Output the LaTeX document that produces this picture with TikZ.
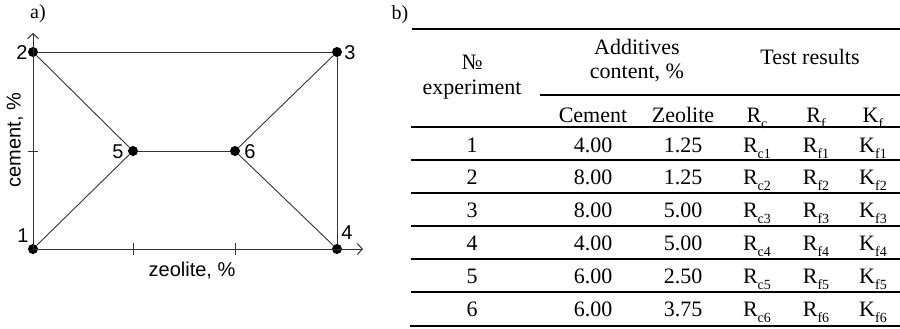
\documentclass[tikz,border=0pt]{standalone}
\usepackage{fontspec}
\setmainfont{Liberation Serif}
\setsansfont{Liberation Sans}
\usetikzlibrary{arrows.meta}
\newcommand{\subidx}[1]{\raisebox{-0.28em}{\fontsize{14}{14}\selectfont #1}}
\tikzset{
  plandot/.style={circle,fill=black,inner sep=0pt,minimum size=10pt},
  edge/.style={draw=black!80,line width=0.9pt},
  axis/.style={edge,-{Straight Barb[length=5pt,width=11pt,line width=1pt]}},
  numlbl/.style={font=\sffamily\fontsize{20}{20}\selectfont,inner sep=0pt},
  panel/.style={font=\fontsize{20}{20}\selectfont,inner sep=0pt},
  cell/.style={font=\fontsize{22}{22}\selectfont,inner sep=0pt,anchor=base},
  rule/.style={line width=1.6pt},
}
\begin{document}
\begin{tikzpicture}[x=1pt,y=-1pt]
  \useasboundingbox (0,0) rectangle (900,329);
  % a) plan of the experiment
  \node[panel] (lbla) at (38,14) {a)};
  \node[plandot] (p1) at (33,249) {};
  \node[plandot] (p2) at (33,52) {};
  \node[plandot] (p3) at (337,52) {};
  \node[plandot] (p4) at (337,249) {};
  \node[plandot] (p5) at (133,151) {};
  \node[plandot] (p6) at (235,151) {};
  \coordinate (ytip) at (33,33);
  \coordinate (xtip) at (363,249);
  \draw[axis] (p1.center) -- (ytip);
  \draw[axis] (p1.center) -- (xtip);
  \foreach \x in {133,235}
    \draw[edge] (\x,243) -- (\x,255);
  \draw[edge] (28,151) -- (38,151);
  \draw[edge] (p2) -- (p3);
  \draw[edge] (p3) -- (p4);
  \draw[edge] (p2) -- (p5);
  \draw[edge] (p1) -- (p5);
  \draw[edge] (p5) -- (p6);
  \draw[edge] (p6) -- (p3);
  \draw[edge] (p6) -- (p4);
  \node[numlbl] (n1) at (23,236) {1};
  \node[numlbl] (n2) at (22,53) {2};
  \node[numlbl] (n3) at (350,53) {3};
  \node[numlbl] (n4) at (347,233) {4};
  \node[numlbl] (n5) at (118,152) {5};
  \node[numlbl] (n6) at (250,152) {6};
  \node[numlbl] (xlbl) at (192,271) {zeolite, \%};
  \node[numlbl,rotate=90] (ylbl) at (15,140) {cement, \%};
  % b) table of experiments
  \node[panel] (lblb) at (400,15) {b)};
  \draw[rule] (412,29) -- (900,29);
  \draw[line width=1.4pt] (540,95) -- (900,95);
  \foreach \y in {127,160,193,226,259,292}
    \draw[line width=1.4pt] (411,\y) -- (900,\y);
  \draw[rule] (410,326) -- (900,326);
  \node[cell] (hno) at (472,70) {№};
  \node[cell] (hexp) at (472,95) {experiment};
  \node[cell] (hadd) at (637,55) {Additives};
  \node[cell] (hcont) at (637,78) {content, \%};
  \node[cell] (htest) at (810,65) {Test results};
  \node[cell] (hcem) at (593,122) {Cement};
  \node[cell] (hzeo) at (683,122) {Zeolite};
  \node[cell] (hrc) at (757,122) {R\subidx{c}};
  \node[cell] (hrf) at (816,122) {R\subidx{f}};
  \node[cell] (hkf) at (873,122) {K\subidx{f}};
  \foreach \c/\z [count=\i] in {4.00/1.25, 8.00/1.25, 8.00/5.00,
                                4.00/5.00, 6.00/2.50, 6.00/3.75} {
    \pgfmathsetmacro{\yy}{152+32.8*(\i-1)}
    \node[cell] (no\i) at (472,\yy) {\i};
    \node[cell] (cem\i) at (593,\yy) {\c};
    \node[cell] (zeo\i) at (683,\yy) {\z};
    \node[cell] (rc\i) at (757,\yy) {R\subidx{c\i}};
    \node[cell] (rf\i) at (816,\yy) {R\subidx{f\i}};
    \node[cell] (kf\i) at (873,\yy) {K\subidx{f\i}};
  }
\end{tikzpicture}
\end{document}
